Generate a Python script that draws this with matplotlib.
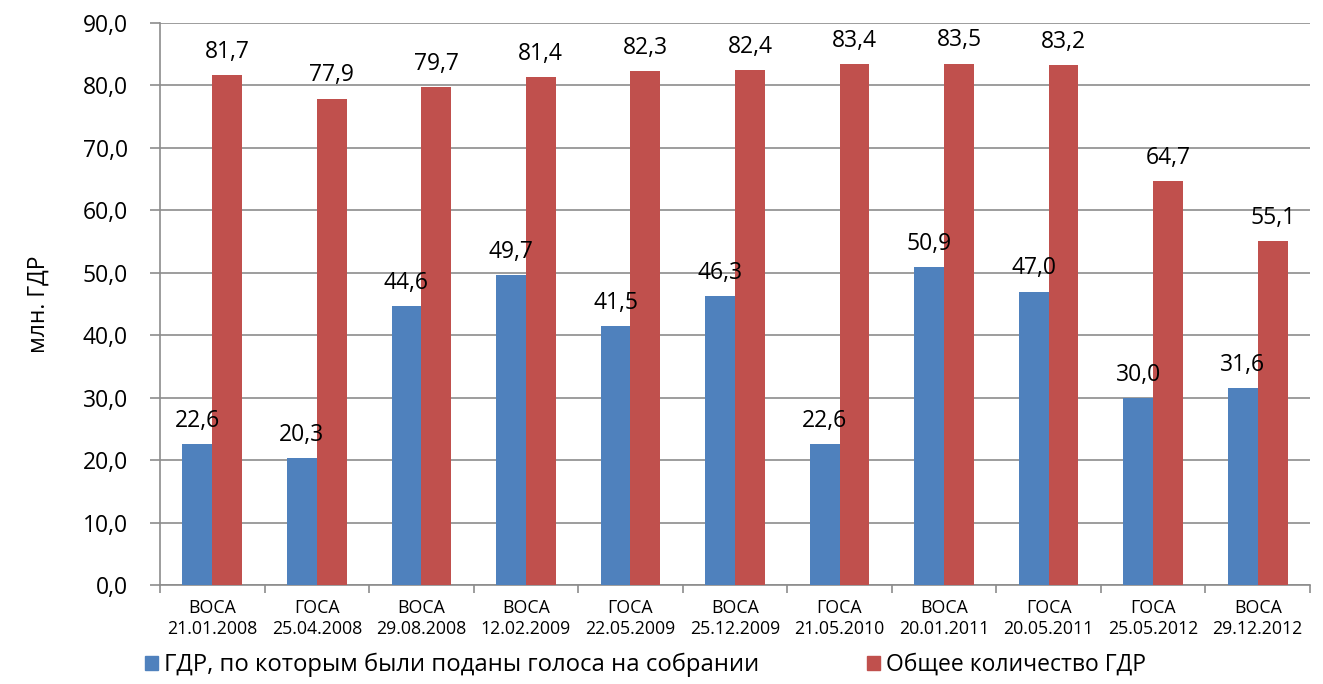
import matplotlib
matplotlib.use("Agg")
import matplotlib.pyplot as plt
import numpy as np

plt.rcParams['font.family'] = ['Open Sans', 'DejaVu Sans']

categories = ["ВОСА\n21.01.2008", "ГОСА\n25.04.2008", "ВОСА\n29.08.2008", "ВОСА\n12.02.2009",
              "ГОСА\n22.05.2009", "ВОСА\n25.12.2009", "ГОСА\n21.05.2010", "ВОСА\n20.01.2011",
              "ГОСА\n20.05.2011", "ГОСА\n25.05.2012", "ВОСА\n29.12.2012"]
voted = [22.6, 20.3, 44.6, 49.7, 41.5, 46.3, 22.6, 50.9, 47.0, 30.0, 31.6]
total = [81.7, 77.9, 79.7, 81.4, 82.3, 82.4, 83.4, 83.5, 83.2, 64.7, 55.1]
series_names = ["ГДР, по которым были поданы голоса на собрании", "Общее количество ГДР"]
yticks = np.arange(0, 91, 10)

blue = "#4F81BD"
red = "#C0504D"
grid_c = "#8C8C8C"

fig = plt.figure(figsize=(13.23, 6.84), dpi=100)
ax = fig.add_axes([160/1323, 1-585/684, 1150/1323, (585-23)/684])

x = np.arange(len(categories))
w = 0.285
b1 = ax.bar(x - w/2, voted, w, color=blue, zorder=3, label=series_names[0])
b2 = ax.bar(x + w/2, total, w, color=red, zorder=3, label=series_names[1])

def fmt(v):
    return f"{v:.1f}".replace(".", ",")

for bars, vals in ((b1, voted), (b2, total)):
    for r, v in zip(bars, vals):
        ax.annotate(fmt(v), (r.get_x() + r.get_width()/2, v), xytext=(0, 8),
                    textcoords="offset points", ha="center", va="bottom",
                    fontsize=16.5, zorder=4)

ax.set_xlim(-0.5, len(categories) - 0.5)
ax.set_ylim(0, 90)
ax.set_yticks(yticks)
ax.set_yticklabels([fmt(v) for v in yticks], fontsize=16.5)
ax.yaxis.grid(True, color=grid_c, linewidth=1.2, zorder=0)
ax.set_xticks(x)
ax.set_xticklabels(categories, fontsize=12.8, linespacing=1.2)
ax.set_xticks(np.arange(-0.5, len(categories)), minor=True)
ax.tick_params(axis="x", which="major", length=0, pad=10)
ax.tick_params(axis="x", which="minor", length=6, color=grid_c, width=1.2)
ax.tick_params(axis="y", length=7, color=grid_c, width=1.2, pad=16)

for s in ("top", "right"):
    ax.spines[s].set_visible(False)
for s in ("left", "bottom"):
    ax.spines[s].set_color(grid_c)
    ax.spines[s].set_linewidth(1.2)

ax.set_ylabel("млн. ГДР", fontsize=16.5)
ax.yaxis.set_label_coords((51 - 160) / 1150, 0.5)

h1 = plt.Rectangle((0, 0), 1, 1, color=blue)
h2 = plt.Rectangle((0, 0), 1, 1, color=red)
fig.legend([h1], [series_names[0]], loc="center left", bbox_to_anchor=(128/1323, 1 - 665/684),
           frameon=False, fontsize=17.2, handlelength=0.55, handleheight=0.55,
           handletextpad=0.25, borderpad=0.2)
fig.legend([h2], [series_names[1]], loc="center left", bbox_to_anchor=(851/1323, 1 - 665/684),
           frameon=False, fontsize=16.5, handlelength=0.57, handleheight=0.57,
           handletextpad=0.25, borderpad=0.2)

fig.savefig("out.png", dpi=100)
